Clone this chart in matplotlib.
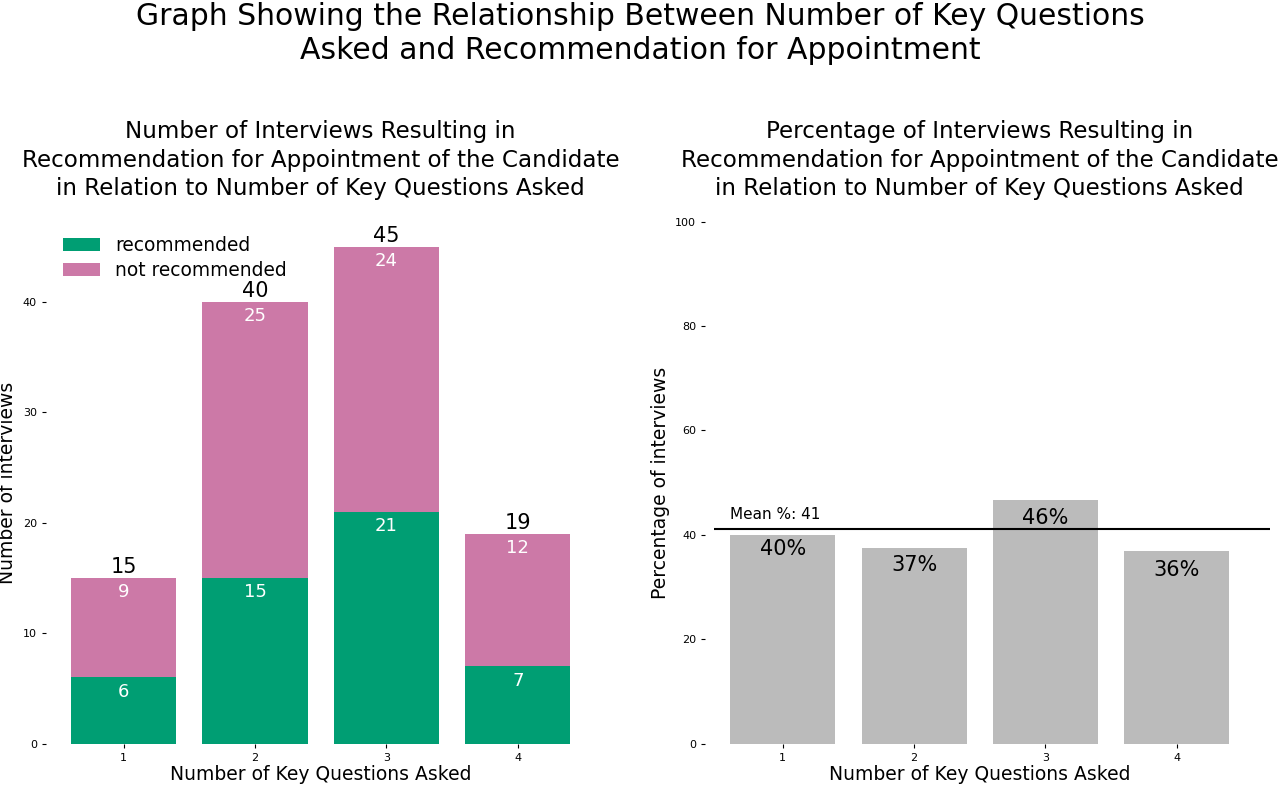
import matplotlib
matplotlib.use("Agg")
import matplotlib.pyplot as plt
import numpy as np

# --- Data -----------------------------------------------------------

questions = [1, 2, 3, 4]
recommended = [6, 15, 21, 7]
not_recommended = [9, 25, 24, 12]

GREEN = "#009E73"
PINK = "#CC79A7"
GREY = "#BBBBBB"


def clean_axes(ax):
    for s in ax.spines.values():
        s.set_visible(False)
    ax.tick_params(axis="both", labelsize=8, length=3, width=0.8)
    ax.set_xticks(questions)


def main():
    totals = [r + n for r, n in zip(recommended, not_recommended)]
    pct = [100 * r / t for r, t in zip(recommended, totals)]
    mean_pct = 100 * sum(recommended) / sum(totals)

    fig, (ax1, ax2) = plt.subplots(1, 2, figsize=(12.8, 7.86), dpi=100)
    fig.subplots_adjust(left=0.036, right=0.98, bottom=0.054, top=0.718, wspace=0.2)

    fig.suptitle("Graph Showing the Relationship Between Number of Key Questions\n"
                 "Asked and Recommendation for Appointment",
                 fontsize=21.5, y=0.997)

    # left: stacked counts
    ax1.bar(questions, recommended, color=GREEN, label="recommended")
    ax1.bar(questions, not_recommended, bottom=recommended, color=PINK,
            label="not recommended")
    for x, r, n, t in zip(questions, recommended, not_recommended, totals):
        ax1.text(x, t + 0.05, str(t), ha="center", va="bottom", fontsize=15)
        ax1.text(x, t - 0.5, str(n), ha="center", va="top", fontsize=13, color="white")
        ax1.text(x, r - 0.5, str(r), ha="center", va="top", fontsize=13, color="white")
    clean_axes(ax1)
    ax1.set_yticks([0, 10, 20, 30, 40])
    ax1.set_ylabel("Number of interviews", fontsize=13.5)
    ax1.set_xlabel("Number of Key Questions Asked", fontsize=13.5, labelpad=2)
    ax1.set_title("Number of Interviews Resulting in\n"
                  "Recommendation for Appointment of the Candidate\n"
                  "in Relation to Number of Key Questions Asked",
                  fontsize=16.6, pad=19, linespacing=1.3)
    ax1.legend(loc="upper left", frameon=False, fontsize=13.4, borderpad=0.1,
               labelspacing=0.35, bbox_to_anchor=(0.010, 0.994))

    # right: percentages
    ax2.bar(questions, pct, color=GREY)
    for x, p in zip(questions, pct):
        ax2.text(x, int(p) - 0.8, "%d%%" % int(p), ha="center", va="top", fontsize=15)
    ax2.set_xlim(0.41, 4.59)
    ax2.set_ylim(0, 100)
    ax2.hlines(mean_pct, 0.48, 4.71, color="black", linewidth=1.5, clip_on=False)
    ax2.text(0.6, mean_pct + 1.2, "Mean %%: %d" % int(mean_pct), fontsize=11,
             ha="left", va="bottom")
    clean_axes(ax2)
    ax2.set_ylabel("Percentage of interviews", fontsize=13.5)
    ax2.set_xlabel("Number of Key Questions Asked", fontsize=13.5, labelpad=2)
    ax2.set_title("Percentage of Interviews Resulting in\n"
                  "Recommendation for Appointment of the Candidate\n"
                  "in Relation to Number of Key Questions Asked",
                  fontsize=16.6, pad=19, linespacing=1.3)

    fig.savefig("out.png", dpi=100)


if __name__ == "__main__":
    main()
